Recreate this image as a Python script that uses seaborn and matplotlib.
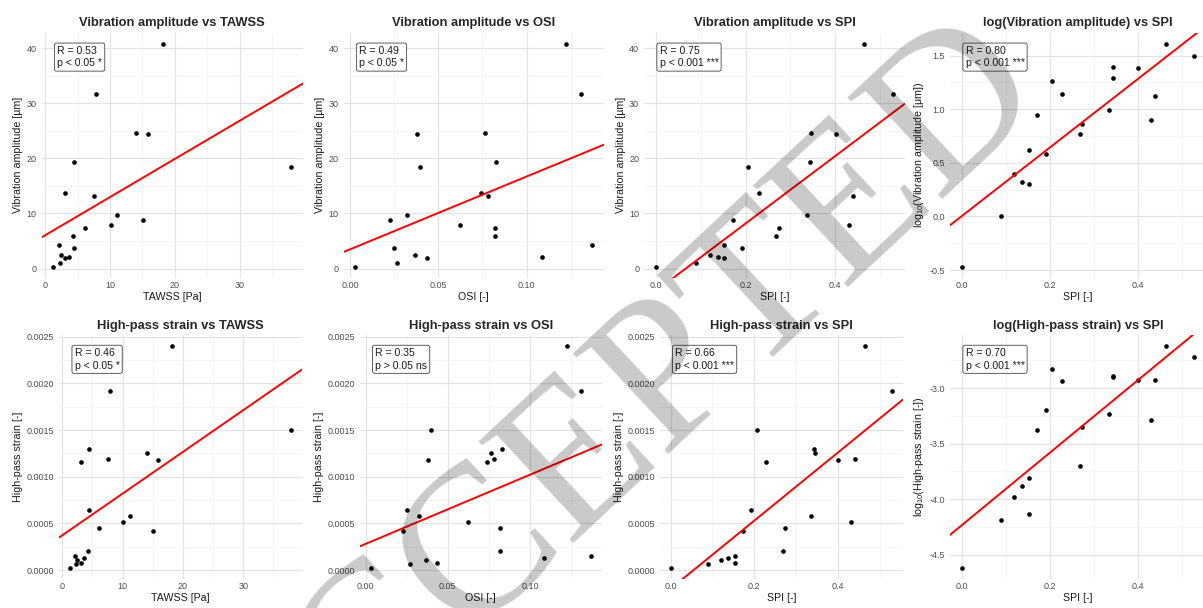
import numpy as np
import pandas as pd
import matplotlib
matplotlib.use('Agg')
import matplotlib.pyplot as plt
import matplotlib.transforms as mtransforms
from matplotlib.ticker import MultipleLocator, AutoMinorLocator, FormatStrFormatter
import seaborn as sns

# values, one entry per case (same order in every list)
vib_amp = [40.8, 31.7, 24.6, 24.5, 19.4, 18.4, 13.8, 13.2, 9.8, 8.8,
           7.9, 7.3, 5.9, 4.2, 3.8, 2.5, 2.1, 2.0, 1.0, 0.34]
hp_strain = [0.00240, 0.00192, 0.00125, 0.00118, 0.00130, 0.00150, 0.00116, 0.00119, 0.00058, 0.00042,
             0.00052, 0.00045, 0.00020, 0.000155, 0.00064, 0.000105, 0.000132, 0.000073, 0.000065, 0.000024]
tawss = [18.1, 7.9, 14.0, 15.85, 4.5, 37.9, 3.05, 7.6, 11.15, 15.05,
         10.1, 6.1, 4.3, 2.1, 4.5, 2.4, 3.65, 3.15, 2.35, 1.3]
osi = [0.1226, 0.131, 0.0766, 0.0377, 0.0828, 0.0397, 0.0741, 0.0779, 0.0325, 0.0225,
       0.0623, 0.0819, 0.0819, 0.1372, 0.0250, 0.0370, 0.1085, 0.0435, 0.0267, 0.003]
spi = [0.464, 0.529, 0.345, 0.401, 0.343, 0.206, 0.229, 0.440, 0.336, 0.172,
       0.431, 0.274, 0.268, 0.153, 0.191, 0.120, 0.138, 0.153, 0.089, 0.0]

# stats printed in the boxes
r_labels = ["R = 0.53", "R = 0.49", "R = 0.75", "R = 0.80",
            "R = 0.46", "R = 0.35", "R = 0.66", "R = 0.70"]
p_labels = ["p < 0.05 *", "p < 0.05 *", "p < 0.001 ***", "p < 0.001 ***",
            "p < 0.05 *", "p > 0.05 ns", "p < 0.001 ***", "p < 0.001 ***"]

df = pd.DataFrame({'tawss': tawss, 'osi': osi, 'spi': spi,
                   'vib': vib_amp, 'strain': hp_strain})
df['log_vib'] = np.log10(df['vib'])
df['log_strain'] = np.log10(df['strain'])

vib_lab = 'Vibration amplitude [\u00b5m]'
str_lab = 'High-pass strain [-]'
panels = [
    ('tawss', 'vib', 'Vibration amplitude vs TAWSS', 'TAWSS [Pa]', vib_lab, 10, 10, '%d', '%d'),
    ('osi', 'vib', 'Vibration amplitude vs OSI', 'OSI [-]', vib_lab, 0.05, 10, '%.2f', '%d'),
    ('spi', 'vib', 'Vibration amplitude vs SPI', 'SPI [-]', vib_lab, 0.2, 10, '%.1f', '%d'),
    ('spi', 'log_vib', 'log(Vibration amplitude) vs SPI', 'SPI [-]',
     r'log$_{10}$(Vibration amplitude [$\mathregular{\mu}$m])', 0.2, 0.5, '%.1f', '%.1f'),
    ('tawss', 'strain', 'High-pass strain vs TAWSS', 'TAWSS [Pa]', str_lab, 10, 0.0005, '%d', '%.4f'),
    ('osi', 'strain', 'High-pass strain vs OSI', 'OSI [-]', str_lab, 0.05, 0.0005, '%.2f', '%.4f'),
    ('spi', 'strain', 'High-pass strain vs SPI', 'SPI [-]', str_lab, 0.2, 0.0005, '%.1f', '%.4f'),
    ('spi', 'log_strain', 'log(High-pass strain) vs SPI', 'SPI [-]',
     r'log$_{10}$(High-pass strain [-])', 0.2, 0.5, '%.1f', '%.1f'),
]

# panel boxes in pixels: left, right, top, bottom
W, H = 1203, 608
boxes = [(41.6, 303, 32.7, 277.8), (343.5, 604, 32.7, 277.8),
         (644, 905, 32.7, 277.8), (950, 1206, 32.7, 277.8),
         (59.1, 302, 334.9, 578.9), (359.6, 602, 334.9, 578.9),
         (659.6, 903, 334.9, 578.9), (950, 1206, 334.9, 578.9)]

sns.set_theme(style='white')
plt.rcParams['font.family'] = ['Liberation Sans', 'DejaVu Sans']
plt.rcParams['mathtext.fontset'] = 'custom'
plt.rcParams['mathtext.rm'] = 'Liberation Sans'
plt.rcParams['mathtext.it'] = 'Liberation Sans'

fig = plt.figure(figsize=(W / 100, H / 100), dpi=100)
fig.patch.set_facecolor('white')

for i, (xc, yc, title, xlab, ylab, xstep, ystep, xfmt, yfmt) in enumerate(panels):
    l, r, t, b = boxes[i]
    ax = fig.add_axes([l / W, 1 - b / H, (r - l) / W, (b - t) / H])
    x = df[xc]
    y = df[yc]
    xr = x.max() - x.min()
    yr = y.max() - y.min()
    xlim = (x.min() - 0.05 * xr, x.max() + 0.05 * xr)
    ylim = (y.min() - 0.05 * yr, y.max() + 0.05 * yr)
    ax.set_xlim(xlim)

    sns.scatterplot(data=df, x=xc, y=yc, ax=ax, color='black', s=11,
                    linewidth=0, zorder=3)
    sns.regplot(data=df, x=xc, y=yc, ax=ax, scatter=False, ci=None, truncate=False,
                line_kws={'color': 'red', 'lw': 1.4, 'zorder': 4})
    ax.set_xlim(xlim)
    ax.set_ylim(ylim)

    # ggplot theme_minimal look
    for s in ax.spines.values():
        s.set_visible(False)
    ax.xaxis.set_major_locator(MultipleLocator(xstep))
    ax.yaxis.set_major_locator(MultipleLocator(ystep))
    ax.xaxis.set_minor_locator(AutoMinorLocator(2))
    ax.yaxis.set_minor_locator(AutoMinorLocator(2))
    ax.xaxis.set_major_formatter(FormatStrFormatter(xfmt))
    ax.yaxis.set_major_formatter(FormatStrFormatter(yfmt))
    ax.grid(which='major', color='#e3e3e3', lw=0.85)
    ax.grid(which='minor', color='#f1f1f1', lw=0.5)
    ax.set_axisbelow(True)
    ax.tick_params(which='both', length=0, labelsize=6.5, labelcolor='#4d4d4d')
    ax.tick_params(axis='x', pad=2)
    ax.tick_params(axis='y', pad=3.5)

    ax.set_title(title, fontsize=9.3, fontweight='bold', pad=4.5)
    ax.set_xlabel(xlab, fontsize=7.7, labelpad=1.5, color='#1a1a1a')
    ax.set_ylabel(ylab, fontsize=7.7, labelpad=2.5, color='#1a1a1a')

    # stats box in the top-left corner
    tr = mtransforms.offset_copy(ax.transAxes, fig=fig, x=15.5, y=-13, units='dots')
    ax.text(0, 1, r_labels[i] + '\n' + p_labels[i], transform=tr, ha='left', va='top',
            fontsize=7.6, linespacing=1.35, color='#1a1a1a', zorder=5,
            bbox=dict(boxstyle='round,pad=0.25,rounding_size=0.2', fc='white',
                      ec='#444444', lw=0.6))

# diagonal watermark
fig.text(0.512, 0.29, 'ACCEPTED', rotation=43, fontsize=152, family='Liberation Serif',
         color='black', alpha=0.21, ha='center', va='center', rotation_mode='anchor')

fig.savefig('out.png', dpi=100, facecolor='white')
